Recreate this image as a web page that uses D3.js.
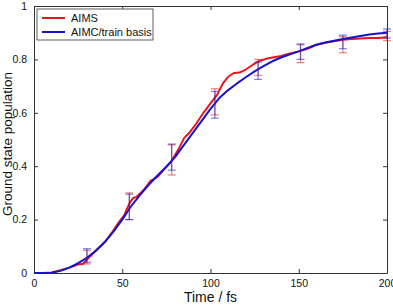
<!DOCTYPE html>
<html>
<head>
<meta charset="utf-8">
<script src="https://cdn.jsdelivr.net/npm/d3@7"></script>
<style>
  body { margin: 0; background: #fff; }
  text { font-family: "Liberation Sans", Arial, sans-serif; }
</style>
</head>
<body>
<div id="chart"></div>
<script>
// AIMS (red, noisy) curve
var aimsTime = [0, 5, 10, 15, 20, 25, 28, 30, 33, 36, 40, 44, 48, 51, 54, 56, 58, 62, 66, 70, 74, 78, 82, 85, 88, 92, 96, 100, 104, 107, 110, 113, 117, 120, 124, 128, 132, 136, 140, 145, 150, 155, 160, 165, 170, 175, 180, 185, 190, 195, 200];
var aimsPop = [0, 0, 0.002, 0.01, 0.02, 0.032, 0.035, 0.05, 0.07, 0.09, 0.115, 0.15, 0.19, 0.215, 0.26, 0.28, 0.285, 0.31, 0.345, 0.36, 0.39, 0.42, 0.465, 0.505, 0.525, 0.56, 0.6, 0.635, 0.67, 0.71, 0.735, 0.748, 0.752, 0.762, 0.78, 0.795, 0.803, 0.808, 0.813, 0.822, 0.83, 0.84, 0.855, 0.862, 0.868, 0.874, 0.876, 0.878, 0.88, 0.88, 0.883];

// AIMC/train basis (blue, smooth) curve
var aimcTime = [0, 5, 10, 15, 20, 25, 30, 35, 40, 45, 50, 55, 60, 65, 70, 75, 80, 85, 90, 95, 100, 105, 110, 115, 120, 125, 130, 135, 140, 145, 150, 155, 160, 165, 170, 175, 180, 185, 190, 195, 200];
var aimcPop = [0, 0, 0.001, 0.008, 0.02, 0.037, 0.057, 0.083, 0.115, 0.155, 0.2, 0.25, 0.292, 0.33, 0.365, 0.398, 0.435, 0.48, 0.525, 0.57, 0.615, 0.655, 0.685, 0.71, 0.733, 0.755, 0.775, 0.793, 0.807, 0.819, 0.83, 0.843, 0.855, 0.863, 0.87, 0.876, 0.882, 0.888, 0.893, 0.897, 0.9];

// error bars
var barTime = [30, 54, 78, 102.5, 127, 151, 175, 200];
var aimsLo = [0.034, 0.2, 0.367, 0.592, 0.74, 0.788, 0.825, 0.87];
var aimsHi = [0.085, 0.3, 0.48, 0.69, 0.8, 0.855, 0.885, 0.905];
var aimcLo = [0.04, 0.2, 0.385, 0.58, 0.725, 0.8, 0.84, 0.88];
var aimcHi = [0.091, 0.295, 0.483, 0.68, 0.79, 0.858, 0.891, 0.914];

var xTicks = [0, 50, 100, 150, 200];
var yTicks = [0, 0.2, 0.4, 0.6, 0.8, 1];
var seriesNames = ["AIMS", "AIMC/train basis"];
var seriesColors = ["#e8141c", "#1414cc"];

var margin = { top: 6, right: 6, bottom: 33, left: 34 },
    width = 393 - margin.left - margin.right,
    height = 306 - margin.top - margin.bottom;

var svg = d3.select("#chart")
    .append("svg")
        .attr("width", 393)
        .attr("height", 306)
    .append("g")
        .attr("transform", "translate(" + margin.left + "," + margin.top + ")");

var x = d3.scaleLinear().domain([0, 200]).range([0, width]);
var y = d3.scaleLinear().domain([0, 1]).range([height, 0]);

// axes with inward ticks on all sides
function styleAxis(g) {
    g.select(".domain").attr("stroke", "#333");
    g.selectAll(".tick line").attr("stroke", "#333");
    g.selectAll("text").style("font-size", "10.5px").attr("fill", "#111");
}

svg.append("g")
    .attr("transform", "translate(0," + height + ")")
    .call(d3.axisBottom(x).tickValues(xTicks).tickSizeInner(-4).tickSizeOuter(0).tickPadding(7).tickFormat(d3.format("d")))
    .call(styleAxis);

svg.append("g")
    .call(d3.axisTop(x).tickValues(xTicks).tickSizeInner(-4).tickSizeOuter(0).tickFormat(""))
    .call(styleAxis);

svg.append("g")
    .call(d3.axisLeft(y).tickValues(yTicks).tickSizeInner(-4).tickSizeOuter(0).tickPadding(7).tickFormat(function(d) { return d === 0 || d === 1 ? d : d3.format(".1f")(d); }))
    .call(styleAxis);

svg.append("g")
    .attr("transform", "translate(" + width + ",0)")
    .call(d3.axisRight(y).tickValues(yTicks).tickSizeInner(-4).tickSizeOuter(0).tickFormat(""))
    .call(styleAxis);

// curves
var line = d3.line()
    .x(function(d) { return x(d[0]); })
    .y(function(d) { return y(d[1]); });

svg.append("path")
    .datum(d3.zip(aimsTime, aimsPop))
    .attr("fill", "none")
    .attr("stroke", seriesColors[0])
    .attr("stroke-width", 2)
    .attr("stroke-linejoin", "round")
    .attr("d", line);

svg.append("path")
    .datum(d3.zip(aimcTime, aimcPop))
    .attr("fill", "none")
    .attr("stroke", seriesColors[1])
    .attr("stroke-width", 2)
    .attr("stroke-linejoin", "round")
    .attr("d", line);

// error bars, semi transparent so red and blue overlap as purple
function drawBars(lo, hi, color) {
    var g = svg.append("g")
        .attr("stroke", color)
        .attr("stroke-opacity", 0.55)
        .attr("stroke-width", 1.2);
    barTime.forEach(function(t, i) {
        var cx = x(t);
        g.append("line").attr("x1", cx).attr("x2", cx).attr("y1", y(lo[i])).attr("y2", y(hi[i]));
        g.append("line").attr("x1", cx - 4).attr("x2", cx + 4).attr("y1", y(lo[i])).attr("y2", y(lo[i]));
        g.append("line").attr("x1", cx - 4).attr("x2", cx + 4).attr("y1", y(hi[i])).attr("y2", y(hi[i]));
    });
}
drawBars(aimsLo, aimsHi, seriesColors[0]);
drawBars(aimcLo, aimcHi, seriesColors[1]);

// legend
var legend = svg.append("g").attr("transform", "translate(3,3)");
legend.append("rect")
    .attr("width", 116)
    .attr("height", 31)
    .attr("fill", "#fff")
    .attr("stroke", "#333")
    .attr("stroke-width", 0.8);

seriesNames.forEach(function(name, i) {
    var ly = 9 + i * 14;
    legend.append("line")
        .attr("x1", 5).attr("x2", 28)
        .attr("y1", ly).attr("y2", ly)
        .attr("stroke", seriesColors[i])
        .attr("stroke-width", 2);
    legend.append("text")
        .attr("x", 34)
        .attr("y", ly + 4)
        .style("font-size", "11px")
        .attr("fill", "#111")
        .text(name);
});

// axis labels
svg.append("text")
    .attr("x", width / 2)
    .attr("y", height + 29)
    .style("text-anchor", "middle")
    .style("font-size", "14px")
    .attr("fill", "#111")
    .text("Time / fs");

svg.append("text")
    .attr("transform", "rotate(-90)")
    .attr("x", -138)
    .attr("y", -22.5)
    .style("text-anchor", "middle")
    .style("font-size", "13.5px")
    .attr("fill", "#111")
    .text("Ground state population");
</script>
</body>
</html>
